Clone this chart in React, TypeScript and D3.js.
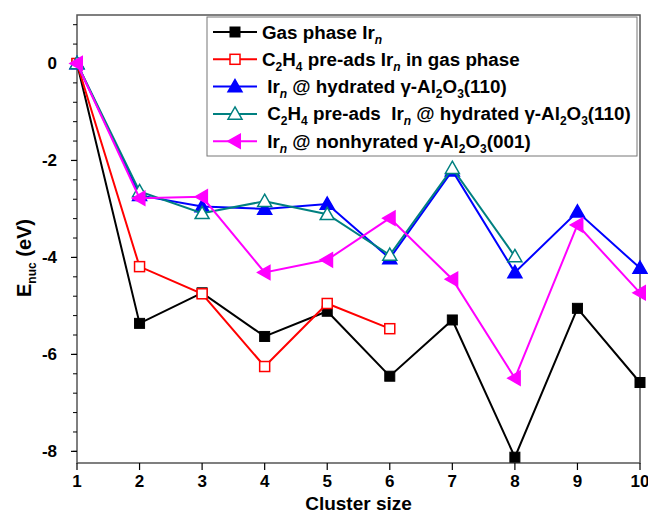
import React from "react";
import * as d3 from "d3";

const clusterSizes = [1, 2, 3, 4, 5, 6, 7, 8, 9, 10];
const gasPhase = [0, -5.36, -4.73, -5.63, -5.11, -6.45, -5.29, -8.12, -5.05, -6.58];
const c2h4Gas = [0, -4.19, -4.75, -6.25, -4.95, -5.47];
const hydrated = [0, -2.72, -2.95, -3.0, -2.9, -4.02, -2.21, -4.31, -3.06, -4.22];
const c2h4Hydrated = [0, -2.64, -3.09, -2.84, -3.11, -3.95, -2.16, -3.98];
const nonhydrated = [0, -2.78, -2.75, -4.31, -4.05, -3.19, -4.45, -6.49, -3.33, -4.73];

const xTicks = [1, 2, 3, 4, 5, 6, 7, 8, 9, 10];
const yTicks = [0, -2, -4, -6, -8];

type Seg = { t: string; sub?: boolean; it?: boolean };
const legendLabels: Seg[][] = [
  [{ t: "Gas phase Ir" }, { t: "n", sub: true, it: true }],
  [{ t: "C" }, { t: "2", sub: true }, { t: "H" }, { t: "4", sub: true }, { t: " pre-ads Ir" }, { t: "n", sub: true, it: true }, { t: " in gas phase" }],
  [{ t: " Ir" }, { t: "n", sub: true, it: true }, { t: " @ hydrated γ-Al" }, { t: "2", sub: true }, { t: "O" }, { t: "3", sub: true }, { t: "(110)" }],
  [{ t: " C" }, { t: "2", sub: true }, { t: "H" }, { t: "4", sub: true }, { t: " pre-ads  Ir" }, { t: "n", sub: true, it: true }, { t: " @ hydrated γ-Al" }, { t: "2", sub: true }, { t: "O" }, { t: "3", sub: true }, { t: "(110)" }],
  [{ t: " Ir" }, { t: "n", sub: true, it: true }, { t: " @ nonhyrated γ-Al" }, { t: "2", sub: true }, { t: "O" }, { t: "3", sub: true }, { t: "(001)" }],
];

const seriesList = [
  { values: gasPhase, color: "#000000", marker: "square", filled: true },
  { values: c2h4Gas, color: "#ff0000", marker: "square", filled: false },
  { values: hydrated, color: "#0000ff", marker: "up", filled: true },
  { values: c2h4Hydrated, color: "#008080", marker: "up", filled: false },
  { values: nonhydrated, color: "#ff00ff", marker: "left", filled: true },
];

const W = 648, H = 513;
const L = 77, R = 640, T = 15, B = 463;
const FONT = "'Liberation Sans', Arial, sans-serif";

function Marker({ type, cx, cy, color, filled }: any) {
  const fill = filled ? color : "#ffffff";
  if (type === "square") {
    const s = 10;
    return <rect x={cx - s / 2} y={cy - s / 2} width={s} height={s} fill={fill} stroke={color} strokeWidth={filled ? 1 : 1.5} />;
  }
  if (type === "up") {
    const r = 7;
    const pts = [[cx, cy - r], [cx + r, cy + r * 0.75], [cx - r, cy + r * 0.75]];
    return <polygon points={pts.map((p) => p.join(",")).join(" ")} fill={fill} stroke={color} strokeWidth={1.5} />;
  }
  const r = 7;
  const pts = [[cx - r, cy], [cx + r * 0.75, cy - r], [cx + r * 0.75, cy + r]];
  return <polygon points={pts.map((p) => p.join(",")).join(" ")} fill={fill} stroke={color} strokeWidth={1.5} />;
}

function LegendText({ segs, x, y }: { segs: Seg[]; x: number; y: number }) {
  const out: any[] = [];
  let shifted = false;
  segs.forEach((s, i) => {
    let dy = 0;
    if (s.sub && !shifted) { dy = 5; shifted = true; }
    else if (!s.sub && shifted) { dy = -5; shifted = false; }
    out.push(
      <tspan key={i} dy={dy} fontSize={s.sub ? 12 : 18.8} fontStyle={s.it ? "italic" : "normal"}>{s.t}</tspan>
    );
  });
  return (
    <text x={x} y={y} fontFamily={FONT} fontWeight="bold" fontSize={18.8} style={{ whiteSpace: "pre" }}>{out}</text>
  );
}

export default function App() {
  const x = d3.scaleLinear().domain([1, 10]).range([L, R]);
  const y = d3.scaleLinear().domain([-8.24, 1]).range([B, T]);
  const line = d3.line<number>().x((_, i) => x(clusterSizes[i])).y((d) => y(d));
  const minor = d3.range(-8.0, 1.01, 0.4).map((v) => Math.round(v * 10) / 10);

  return (
    <svg width={W} height={H} style={{ position: "absolute", left: 0, top: 0, background: "#fff" }}>
      <rect x={0} y={0} width={W} height={H} fill="#fff" />
      <rect x={L} y={T} width={R - L} height={B - T} fill="none" stroke="#555" strokeWidth={1.5} />
      {minor.map((v) => (
        <line key={"m" + v} x1={L - 4} x2={L} y1={y(v)} y2={y(v)} stroke="#000" strokeWidth={1} />
      ))}
      {yTicks.map((v) => (
        <g key={"y" + v}>
          <line x1={L - 6} x2={L} y1={y(v)} y2={y(v)} stroke="#000" strokeWidth={1.2} />
          <text x={L - 20} y={y(v) + 6} textAnchor="end" fontFamily={FONT} fontWeight="bold" fontSize={17}>{v}</text>
        </g>
      ))}
      {xTicks.map((v) => (
        <g key={"x" + v}>
          <line x1={x(v)} x2={x(v)} y1={B} y2={B + 7} stroke="#000" strokeWidth={1.2} />
          <text x={x(v)} y={487} textAnchor="middle" fontFamily={FONT} fontWeight="bold" fontSize={17}>{v}</text>
        </g>
      ))}
      <text x={(L + R) / 2} y={510} textAnchor="middle" fontFamily={FONT} fontWeight="bold" fontSize={19}>Cluster size</text>
      <text transform={`translate(31,258) rotate(-90)`} textAnchor="middle" fontFamily={FONT} fontWeight="bold" fontSize={20}>
        <tspan>E</tspan>
        <tspan dy={5} fontSize={12}>nuc</tspan>
        <tspan dy={-5}> (eV)</tspan>
      </text>
      {seriesList.map((s, si) => (
        <g key={"s" + si}>
          <path d={line(s.values) || ""} fill="none" stroke={s.color} strokeWidth={2} />
          {s.values.map((v, i) => (
            <Marker key={i} type={s.marker} cx={x(clusterSizes[i])} cy={y(v)} color={s.color} filled={s.filled} />
          ))}
        </g>
      ))}
      <rect x={207} y={17} width={430} height={139} fill="#fff" stroke="#777" strokeWidth={1} />
      {seriesList.map((s, i) => {
        const cy = 32 + i * 27.3;
        return (
          <g key={"l" + i}>
            <line x1={213} x2={257} y1={cy} y2={cy} stroke={s.color} strokeWidth={2} />
            <Marker type={s.marker} cx={235} cy={cy} color={s.color} filled={s.filled} />
            <LegendText segs={legendLabels[i]} x={262} y={cy + 6.5} />
          </g>
        );
      })}
    </svg>
  );
}
